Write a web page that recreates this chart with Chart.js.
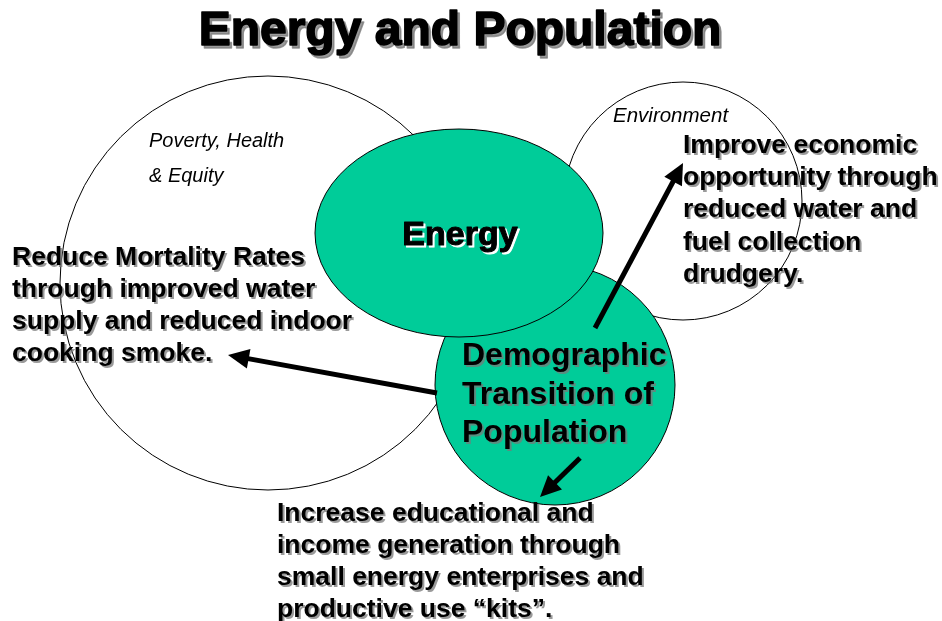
<!DOCTYPE html>
<html>
<head>
<meta charset="utf-8">
<title>Energy and Population</title>
<script src="https://cdn.jsdelivr.net/npm/chart.js@4.4.1/dist/chart.umd.min.js"></script>
<style>
  html, body { margin: 0; padding: 0; background: #fff; }
  #wrap { width: 942px; height: 621px; position: relative; }
</style>
</head>
<body>
<div id="wrap"><canvas id="myChart"></canvas></div>
<script>
// 도형 데이터 (diagram units, 0..942 x 0..621)
const shapeNames = ['Poverty, Health & Equity', 'Environment', 'Demographic Transition of Population', 'Energy'];
const shapeCenterX = [268, 683, 555, 459];
const shapeCenterY = [283, 201, 385, 233];
const shapeRadiusX = [208, 119, 120, 144];
const shapeRadiusY = [207, 119, 120, 104];

// 화살표 (start -> tip)
const arrowStartX = [437, 595, 580];
const arrowStartY = [393, 328, 458];
const arrowEndX = [228, 683, 540];
const arrowEndY = [355, 163, 497];

// 텍스트
const titleText = 'Energy and Population';
const energyLabel = 'Energy';
const povertyLines = ['Poverty, Health', '& Equity'];
const environmentLines = ['Environment'];
const demographicLines = ['Demographic', 'Transition of', 'Population'];
const mortalityLines = ['Reduce Mortality Rates', 'through improved water', 'supply and reduced indoor', 'cooking smoke.'];
const economicLines = ['Improve economic', 'opportunity through', 'reduced water and', 'fuel collection', 'drudgery.'];
const educationLines = ['Increase educational and', 'income generation through', 'small energy enterprises and', 'productive use \u201ckits\u201d.'];

// 스타일
const FONT = "'Liberation Sans', Arial, Helvetica, sans-serif";
const shapeFill = ['#ffffff', '#ffffff', '#00cc99', '#00cc99'];
const greyShadow = 'rgba(120,120,120,0.75)';

const textBlocks = [
    { lines: [titleText], x: 460, y: 45, gap: 0, font: 'bold 48px ' + FONT, align: 'center', shadow: greyShadow, off: 2.5, heavy: 1.6 },
    { lines: [energyLabel], x: 460, y: 245, gap: 0, font: 'bold 34px ' + FONT, align: 'center', shadow: '#ffffff', off: 2, heavy: 1 },
    { lines: povertyLines, x: 149, y: 147, gap: 35, font: 'italic 20px ' + FONT, align: 'left', shadow: null },
    { lines: environmentLines, x: 613, y: 122, gap: 0, font: 'italic 20.5px ' + FONT, align: 'left', shadow: null },
    { lines: mortalityLines, x: 12, y: 265, gap: 32, font: 'bold 26.5px ' + FONT, align: 'left', shadow: greyShadow, off: 2 },
    { lines: economicLines, x: 683, y: 153, gap: 32.2, font: 'bold 26.5px ' + FONT, align: 'left', shadow: greyShadow, off: 2 },
    { lines: demographicLines, x: 462, y: 365, gap: 38.5, font: 'bold 32px ' + FONT, align: 'left', shadow: greyShadow, off: 2 },
    { lines: educationLines, x: 277, y: 521, gap: 32, font: 'bold 26.5px ' + FONT, align: 'left', shadow: greyShadow, off: 2 },
];

// 글자 한 줄 그리기 (채우기 + 선택적 외곽선)
function paintText(ctx, line, x, y, color, heavy) {
    ctx.fillStyle = color;
    ctx.fillText(line, x, y);
    if (heavy) {
        ctx.lineWidth = heavy;
        ctx.strokeStyle = color;
        ctx.lineJoin = 'round';
        ctx.strokeText(line, x, y);
    }
}

// 도형, 화살표, 글자 그리기 플러그인
const diagramPlugin = {
    id: 'diagram',
    beforeDatasetsDraw(chart) {
        const ctx = chart.ctx;
        const sx = chart.scales.x, sy = chart.scales.y;
        ctx.save();
        for (let i = 0; i < shapeNames.length; i++) {
            const cx = sx.getPixelForValue(shapeCenterX[i]);
            const cy = sy.getPixelForValue(shapeCenterY[i]);
            const rx = Math.abs(sx.getPixelForValue(shapeCenterX[i] + shapeRadiusX[i]) - cx);
            const ry = Math.abs(sy.getPixelForValue(shapeCenterY[i] + shapeRadiusY[i]) - cy);
            ctx.beginPath();
            ctx.ellipse(cx, cy, rx, ry, 0, 0, Math.PI * 2);
            ctx.fillStyle = shapeFill[i];
            ctx.fill();
            ctx.lineWidth = 1;
            ctx.strokeStyle = '#000';
            ctx.stroke();
        }
        ctx.restore();
    },
    afterDatasetsDraw(chart) {
        const ctx = chart.ctx;
        const sx = chart.scales.x, sy = chart.scales.y;
        ctx.save();
        // 화살표
        for (let i = 0; i < arrowStartX.length; i++) {
            const x0 = sx.getPixelForValue(arrowStartX[i]);
            const y0 = sy.getPixelForValue(arrowStartY[i]);
            const x1 = sx.getPixelForValue(arrowEndX[i]);
            const y1 = sy.getPixelForValue(arrowEndY[i]);
            const ang = Math.atan2(y1 - y0, x1 - x0);
            const headLen = 21, headHalf = 10;
            const bx = x1 - headLen * Math.cos(ang), by = y1 - headLen * Math.sin(ang);
            ctx.beginPath();
            ctx.moveTo(x0, y0);
            ctx.lineTo(bx + 2 * Math.cos(ang), by + 2 * Math.sin(ang));
            ctx.lineWidth = 5;
            ctx.strokeStyle = '#000';
            ctx.lineCap = 'butt';
            ctx.stroke();
            ctx.beginPath();
            ctx.moveTo(x1, y1);
            ctx.lineTo(bx - headHalf * Math.sin(ang), by + headHalf * Math.cos(ang));
            ctx.lineTo(bx + headHalf * Math.sin(ang), by - headHalf * Math.cos(ang));
            ctx.closePath();
            ctx.fillStyle = '#000';
            ctx.fill();
        }
        // 글자: 그림자 먼저, 그다음 본문
        ctx.textBaseline = 'alphabetic';
        textBlocks.forEach(b => {
            ctx.font = b.font;
            ctx.textAlign = b.align;
            b.lines.forEach((line, k) => {
                const px = sx.getPixelForValue(b.x);
                const py = sy.getPixelForValue(b.y + k * b.gap);
                if (b.shadow) {
                    paintText(ctx, line, px + b.off, py + b.off, b.shadow, b.heavy);
                }
                paintText(ctx, line, px, py, '#000', b.heavy);
            });
        });
        ctx.restore();
    }
};

const ctx = document.getElementById('myChart').getContext('2d');

const myChart = new Chart(ctx, {
    type: 'scatter',
    data: {
        datasets: [{
            label: 'centres',
            data: shapeCenterX.map((x, i) => ({ x: x, y: shapeCenterY[i] })),
            pointRadius: 0,
            pointHoverRadius: 0,
        }],
    },
    options: {
        responsive: true,
        maintainAspectRatio: false,
        animation: false,
        layout: { padding: 0 },
        plugins: {
            legend: { display: false },
            tooltip: { enabled: false },
            title: { display: false },
        },
        scales: {
            x: { type: 'linear', min: 0, max: 942, display: false },
            y: { type: 'linear', min: 0, max: 621, reverse: true, display: false },
        },
    },
    plugins: [diagramPlugin],
});
</script>
</body>
</html>
